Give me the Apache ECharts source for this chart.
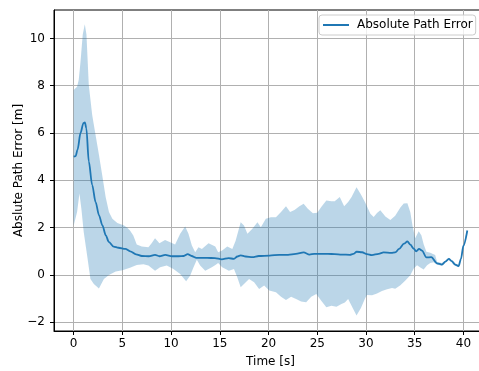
<!DOCTYPE html>
<html>
<head>
<meta charset="utf-8">
<script src="https://cdn.jsdelivr.net/npm/echarts@6/dist/echarts.min.js"></script>
<style>
  html, body { margin: 0; padding: 0; background: #fff; }
  #chart { width: 479px; height: 371px; }
</style>
</head>
<body>
<div id="chart"></div>
<script>
// Mean absolute path error over time
const meanTime = [0, 0.2, 0.4, 0.7, 1.0, 1.15, 1.3, 1.55, 1.9, 2.25, 2.6, 2.95, 3.3, 3.6, 4.1, 4.6, 5.3, 5.8, 6.4, 7.0,
  7.7, 8.35, 8.8, 9.4, 10.1, 10.75, 11.3, 11.7, 12.1, 12.6, 13.7, 14.5, 15.2, 15.9, 16.45, 16.8, 17.15, 17.65, 18.35, 19.0,
  20.1, 21.1, 22.0, 22.8, 23.6, 24.2, 24.7, 25.4, 26.1, 26.8, 27.5, 28.35, 28.7, 29.05, 29.6, 30.1, 30.6, 31.3, 31.8, 32.6,
  33.0, 33.4, 33.9, 34.25, 34.55, 34.9, 35.15, 35.45, 35.75, 36.2, 36.7, 37.3, 37.8, 38.15, 38.5, 38.8, 39.15, 39.5, 39.75, 40.0, 40.4];
const meanError = [5.0, 5.02, 5.3, 6.0, 6.42, 6.45, 6.2, 4.8, 3.8, 3.08, 2.52, 2.09, 1.67, 1.4, 1.2, 1.15, 1.1, 1.0, 0.87, 0.8,
  0.79, 0.85, 0.79, 0.85, 0.79, 0.79, 0.8, 0.88, 0.8, 0.72, 0.72, 0.71, 0.66, 0.71, 0.68, 0.78, 0.83, 0.78, 0.75, 0.8,
  0.82, 0.85, 0.85, 0.89, 0.95, 0.86, 0.89, 0.89, 0.89, 0.88, 0.86, 0.85, 0.89, 0.98, 0.96, 0.88, 0.84, 0.89, 0.95, 0.93,
  0.95, 1.1, 1.32, 1.42, 1.28, 1.11, 1.0, 1.1, 1.03, 0.74, 0.75, 0.49, 0.44, 0.56, 0.68, 0.58, 0.44, 0.37, 0.68, 1.24, 1.88];

// Upper edge of the spread band
const upperTime = [0, 0.35, 0.52, 0.7, 0.93, 1.14, 1.31, 1.55, 1.9, 2.25, 2.6, 2.93, 3.28, 3.62, 3.97, 4.48, 5.17, 5.5, 5.78, 6.12,
  6.47, 6.98, 7.67, 8.0, 8.35, 8.8, 9.38, 9.9, 10.41, 10.93, 11.44, 11.78, 12.13, 12.47, 12.81, 13.16, 13.84, 14.53, 14.83, 15.24,
  15.76, 16.28, 16.62, 17.14, 17.48, 17.83, 18.34, 18.86, 19.21, 19.72, 20.24, 20.76, 21.28, 21.79, 22.21, 22.66, 23.17, 23.6, 24.03, 24.55,
  25.0, 25.41, 25.93, 26.45, 26.79, 27.31, 27.76, 28.17, 28.52, 29.03, 29.48, 29.93, 30.45, 30.79, 31.13, 31.47, 31.99, 32.5, 33.0, 33.53,
  33.87, 34.25, 34.55, 34.79, 35.05, 35.41, 35.68, 35.92, 36.2, 36.6, 37.1, 37.3, 37.8, 38.15, 38.5, 38.8, 39.15, 39.5, 39.75, 40.0, 40.4];
const upperError = [7.82, 7.96, 8.25, 9.0, 10.16, 10.6, 10.16, 8.03, 6.76, 5.91, 5.06, 4.21, 3.3, 2.66, 2.38, 2.2, 2.09, 2.0, 1.88, 1.67,
  1.29, 1.2, 1.17, 1.34, 1.55, 1.34, 1.48, 1.38, 1.29, 1.74, 2.05, 1.74, 1.24, 0.96, 1.17, 1.1, 1.34, 1.2, 0.96, 1.03,
  1.2, 1.1, 1.45, 2.23, 2.09, 1.74, 1.95, 2.23, 2.02, 2.37, 2.44, 2.44, 2.66, 2.9, 2.66, 2.75, 2.9, 3.01, 2.8, 2.61,
  2.63, 2.87, 3.15, 3.12, 3.11, 3.29, 2.9, 3.08, 3.29, 3.71, 3.4, 3.05, 2.59, 2.45, 2.62, 2.73, 2.47, 2.32, 2.5, 2.85,
  3.02, 3.03, 2.65, 2.05, 1.55, 1.85, 1.68, 1.3, 0.98, 0.94, 0.84, 0.55, 0.5, 0.61, 0.73, 0.63, 0.49, 0.42, 0.72, 1.28, 1.92];

// Lower edge of the spread band
const lowerTime = [0, 0.35, 0.59, 0.79, 1.03, 1.38, 1.72, 2.07, 2.59, 3.1, 3.62, 4.31, 5.0, 5.78, 6.47, 7.15, 7.67, 8.35, 8.87, 9.55,
  10.24, 10.93, 11.54, 11.95, 12.3, 12.64, 12.98, 13.5, 14.18, 14.55, 14.83, 15.24, 15.93, 16.45, 16.79, 17.14, 17.48, 18.0, 18.52, 19.03,
  19.55, 20.07, 20.76, 21.28, 21.79, 22.31, 22.83, 23.34, 23.86, 24.38, 24.9, 25.41, 25.93, 26.45, 26.97, 27.48, 27.83, 28.17, 28.52, 29.03,
  29.48, 29.9, 30.1, 30.62, 31.13, 31.64, 32.16, 32.67, 33.0, 33.53, 34.04, 34.55, 34.9, 35.24, 35.58, 35.92, 36.27, 36.6, 36.94, 37.3,
  37.8, 38.15, 38.5, 38.8, 39.15, 39.5, 39.75, 40.0, 40.4];
const lowerError = [2.09, 2.66, 3.44, 2.8, 1.81, 0.82, -0.17, -0.38, -0.57, -0.17, 0.0, 0.15, 0.2, 0.3, 0.42, 0.45, 0.4, 0.18, 0.32, 0.4,
  0.25, 0.04, -0.27, -0.03, 0.32, 0.64, 0.4, 0.18, 0.32, 0.42, 0.5, 0.32, 0.18, 0.25, -0.1, -0.52, -0.38, -0.17, -0.31, -0.59,
  -0.45, -0.66, -0.73, -0.92, -1.06, -0.92, -1.02, -1.12, -1.15, -0.92, -0.81, -1.09, -1.37, -1.3, -1.34, -1.23, -1.16, -1.02, -1.3, -1.72,
  -1.4, -1.0, -0.85, -0.86, -0.79, -0.68, -0.6, -0.55, -0.58, -0.44, -0.23, -0.01, 0.27, 0.41, 0.31, 0.23, 0.41, 0.5, 0.54, 0.43,
  0.39, 0.51, 0.63, 0.53, 0.39, 0.32, 0.64, 1.2, 1.84];

// Tick values
const xTicks = [0, 5, 10, 15, 20, 25, 30, 35, 40];
const yTicks = [-2, 0, 2, 4, 6, 8, 10];

const FONT = 'DejaVu Sans';
const BLUE = '#1f77b4';

const chart = echarts.init(document.getElementById('chart'), null, { renderer: 'canvas' });

chart.setOption({
  animation: false,
  backgroundColor: '#ffffff',
  grid: {
    left: 54, top: 10, right: -8, bottom: 40,
    outerBoundsMode: 'none',
    containLabel: false,
    show: true, borderColor: '#000', borderWidth: 1, backgroundColor: 'transparent'
  },
  legend: {
    left: 319, top: 15,
    padding: [4, 3, 4, 4],
    borderColor: '#cccccc', borderWidth: 1, borderRadius: 3,
    backgroundColor: 'rgba(255,255,255,0.8)',
    itemWidth: 26, itemHeight: 2,
    textStyle: { fontFamily: FONT, fontSize: 12, color: '#000', padding: [0, 0, 0, 3] },
    data: [{ name: 'Absolute Path Error', icon: 'rect' }]
  },
  xAxis: {
    type: 'value', min: -2.02, max: 42.42,
    name: 'Time [s]', nameLocation: 'middle', nameGap: 25, nameMoveOverlap: false,
    nameTextStyle: { fontFamily: FONT, fontSize: 12, color: '#000' },
    axisLine: { onZero: false, lineStyle: { color: '#000', width: 1 } },
    axisTick: { show: true, inside: false, length: 4, customValues: xTicks, lineStyle: { color: '#000', width: 1 } },
    axisLabel: { customValues: xTicks, margin: 7, fontFamily: FONT, fontSize: 12, color: '#000' },
    splitLine: { show: true, lineStyle: { color: '#b0b0b0', width: 1 } }
  },
  yAxis: {
    type: 'value', min: -2.37, max: 11.2,
    name: 'Abslute Path Error [m]', nameLocation: 'middle', nameGap: 29, nameRotate: 90, nameMoveOverlap: false,
    nameTextStyle: { fontFamily: FONT, fontSize: 12, color: '#000' },
    axisLine: { show: true, onZero: false, lineStyle: { color: '#000', width: 1 } },
    axisTick: { show: true, inside: false, length: 4, customValues: yTicks, lineStyle: { color: '#000', width: 1 } },
    axisLabel: {
      customValues: yTicks, margin: 9, fontFamily: FONT, fontSize: 12, color: '#000',
      formatter: v => String(v).replace('-', '\u2212')
    },
    splitLine: { show: true, lineStyle: { color: '#b0b0b0', width: 1 } }
  },
  series: [
    {
      // shaded spread band between lower and upper edges
      type: 'custom',
      name: 'band',
      z: 1,
      silent: true,
      data: [[0, 0]],
      encode: { x: 0, y: 1 },
      renderItem: function (params, api) {
        if (params.dataIndex !== 0) return null;
        const pts = [];
        for (let i = 0; i < upperTime.length; i++) pts.push(api.coord([upperTime[i], upperError[i]]));
        for (let i = lowerTime.length - 1; i >= 0; i--) pts.push(api.coord([lowerTime[i], lowerError[i]]));
        return {
          type: 'polygon',
          shape: { points: pts },
          style: { fill: 'rgba(31,119,180,0.3)', stroke: null }
        };
      }
    },
    {
      type: 'line',
      name: 'Absolute Path Error',
      z: 3,
      data: meanTime.map((t, i) => [t, meanError[i]]),
      showSymbol: false,
      smooth: 0.3,
      smoothMonotone: 'x',
      color: BLUE,
      lineStyle: { color: BLUE, width: 1.8 }
    }
  ]
});
</script>
</body>
</html>
